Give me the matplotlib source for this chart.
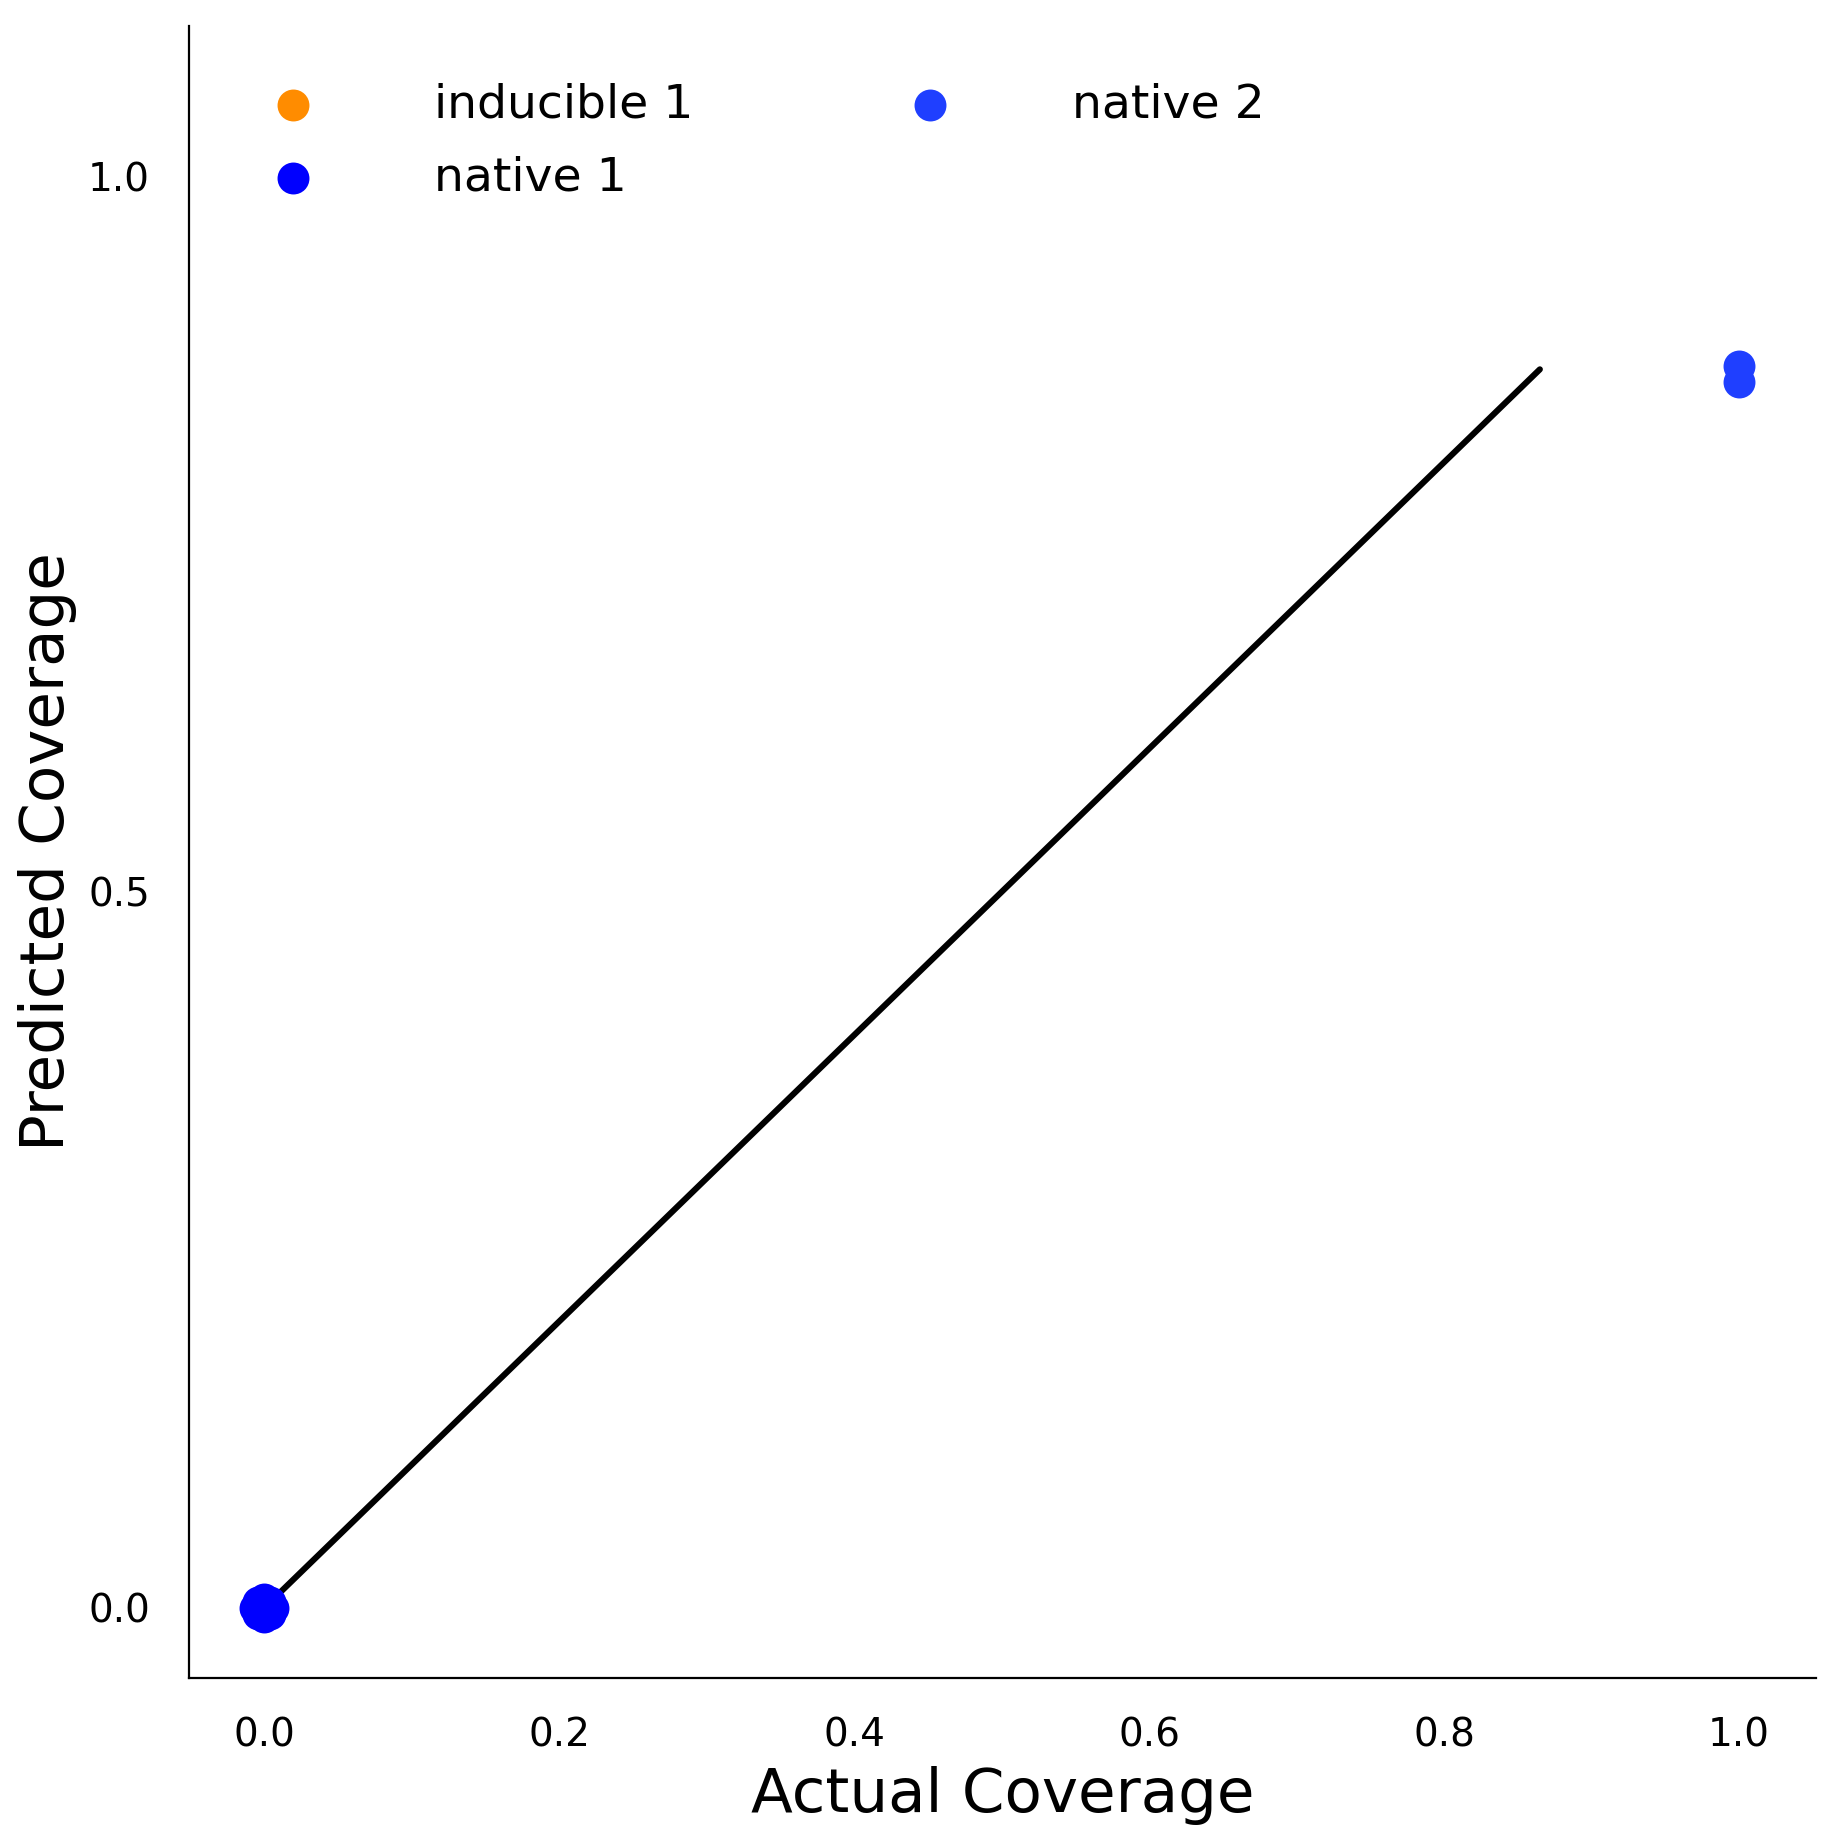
import matplotlib
matplotlib.use("Agg")
import matplotlib.pyplot as plt

# data
inducible1_x = [0.0, 0.0]
inducible1_y = [0.0, 0.0]
native1_x = [0.0, 0.006, -0.006, 0.0, 0.0, 0.004, -0.004, 0.004, -0.004]
native1_y = [0.0, 0.0, 0.0, 0.006, -0.006, 0.004, 0.004, -0.004, -0.004]
native2_x = [1.0, 1.0]
native2_y = [0.867, 0.856]
line_x = [0.0, 0.865]
line_y = [0.0, 0.865]

fig = plt.figure(figsize=(9.17, 9.17), dpi=200)
ax = fig.add_axes([0.103, 0.085, 0.887, 0.901])

ax.plot(line_x, line_y, color="black", lw=2.2, solid_capstyle="round")
ax.scatter(inducible1_x, inducible1_y, s=110, color="#ff8c00", label="inducible 1", zorder=3)
ax.scatter(native1_x, native1_y, s=110, color="#0000ff", label="native 1", zorder=4)
ax.scatter(native2_x, native2_y, s=110, color="#1f3fff", label="native 2", zorder=4)

ax.set_xlim(-0.051, 1.052)
ax.set_ylim(-0.049, 1.105)
ax.set_xticks([0.0, 0.2, 0.4, 0.6, 0.8, 1.0])
ax.set_yticks([0.0, 0.5, 1.0])
ax.tick_params(length=0, labelsize=14, pad=14)
for s in ("top", "right"):
    ax.spines[s].set_visible(False)
ax.set_xlabel("Actual Coverage", fontsize=22)
ax.set_ylabel("Predicted Coverage", fontsize=22)
ax.legend(loc="upper left", ncol=2, frameon=False, fontsize=17,
          handletextpad=2.0, columnspacing=4.0, borderaxespad=1.0,
          labelspacing=0.6, borderpad=0.2)

fig.savefig("out.png", dpi=200)
